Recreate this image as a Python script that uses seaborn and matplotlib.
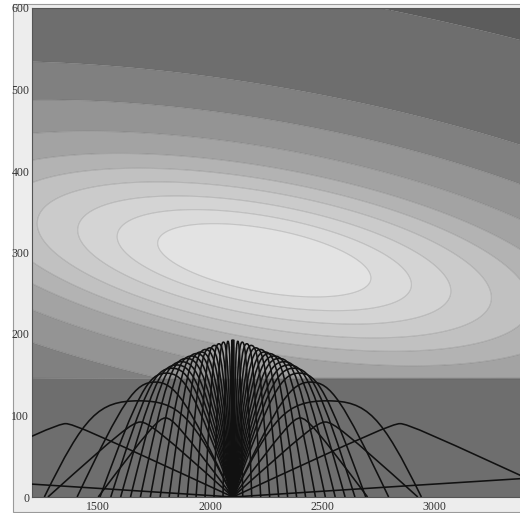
import numpy as np
import matplotlib
matplotlib.use("Agg")
import matplotlib.pyplot as plt
import seaborn as sns
from matplotlib.path import Path
from matplotlib.patches import PathPatch, Rectangle
from matplotlib.ticker import MultipleLocator, FixedLocator

sns.set_theme(style="white")
plt.rcParams['font.family'] = ['Liberation Serif', 'DejaVu Serif']

# ---------------- data ----------------
# axis ranges and ticks
x_range = [1205, 3384]
y_range = [0, 600]
x_major = [1500, 2000, 2500, 3000]
y_major = [0, 100, 200, 300, 400, 500, 600]

# background field: tilted elliptical bump (centre, half-widths, tilt)
field_center_x = 2240
field_center_y = 290
field_tilt = -0.045
field_half_x = 475
field_half_y_up = 40
field_half_y_low = 39
field_floor_y = 145
field_floor_level = 6.5
# contour levels (elliptical radius) and band grey levels
contour_levels = [0, 1.0, 1.38, 1.75, 2.13, 2.5, 2.9, 3.5, 4.35, 5.4, 8.4, 100]
band_grays = [0.89, 0.86, 0.83, 0.795, 0.755, 0.70, 0.64, 0.58, 0.50, 0.43, 0.36]

# rays: launch point, apex offset (horizontal distance from launch), apex height,
# and where the launch tangent meets the apex height (fraction of apex offset)
launch_x = 2100
ray_apex_offset = [3, 22, 42, 62, 82, 102, 122, 142, 162, 184, 206, 228, 250,
                   272, 296, 347, 420, 300, 412, 745, 1500]
ray_apex_height = [193, 191, 190, 188, 186, 183, 181, 178, 176, 173, 170, 166, 162,
                   158, 152, 141, 118, 97, 92, 90, 26]
ray_corner_frac = [0.55, 0.55, 0.56, 0.57, 0.58, 0.59, 0.6, 0.61, 0.62, 0.63, 0.64,
                   0.65, 0.66, 0.67, 0.68, 0.7, 0.5, 0.88, 0.9, 0.95, 0.98]
ray_round = 0.85

# ---------------- figure ----------------
W, H = 520, 513
fig = plt.figure(figsize=(W / 100, H / 100), dpi=100, facecolor="white")
frame = Rectangle((13 / W, 1 / H), 1 - 13 / W + 0.01, (511 - 3) / H,
                  transform=fig.transFigure, facecolor="#ededed",
                  edgecolor="#9a9a9a", linewidth=0.8, zorder=-10)
fig.patches.append(frame)
ax = fig.add_axes([32 / W, (H - 497) / H, (W - 32) / W + 0.002, (497 - 8) / H])
ax.set_zorder(5)

xs = np.linspace(x_range[0], x_range[1], 500)
ys = np.linspace(y_range[0], y_range[1], 400)
X, Y = np.meshgrid(xs, ys)
u = (X - field_center_x) / field_half_x
yc = field_center_y + field_tilt * (X - field_center_x)
v = Y - yc
vs = np.where(v > 0, v / field_half_y_up, v / field_half_y_low)
F = np.sqrt(u ** 2 + vs ** 2)
F = np.where(Y < field_floor_y, field_floor_level, F)

band_colors = sns.color_palette([(g, g, g) for g in band_grays])
ax.contourf(X, Y, F, levels=contour_levels, colors=band_colors, antialiased=True)
ax.contour(X, Y, F, levels=contour_levels[1:-1], colors=[(0.3, 0.3, 0.3, 0.22)],
           linewidths=0.8)

# rays (symmetric about their apex, mirrored to both sides of the launch point)
for d, h, c in zip(ray_apex_offset, ray_apex_height, ray_corner_frac):
    corner = c * d
    p1 = (ray_round * corner, ray_round * h)
    p2 = (d + ray_round * (corner - d), h)
    local = [(0, 0), p1, p2, (d, h), (2 * d - p2[0], h), (2 * d - p1[0], p1[1]), (2 * d, 0)]
    for side in (-1, 1):
        verts = [(launch_x + side * px, py) for px, py in local]
        codes = [Path.MOVETO] + [Path.CURVE4] * 6
        ax.add_patch(PathPatch(Path(verts, codes), facecolor="none",
                               edgecolor="#111111", linewidth=1.15, zorder=5))

ax.set_xlim(x_range)
ax.set_ylim(y_range)
ax.xaxis.set_major_locator(FixedLocator(x_major))
ax.xaxis.set_minor_locator(MultipleLocator(100))
ax.yaxis.set_major_locator(FixedLocator(y_major))
ax.yaxis.set_minor_locator(MultipleLocator(20))
ax.tick_params(which="both", direction="in", top=True, right=True,
               colors="#222222", labelcolor="#333333", labelsize=8.5)
ax.tick_params(which="major", length=4, width=0.7)
ax.tick_params(which="minor", length=2.2, width=0.6)
ax.tick_params(axis="y", pad=2)
ax.tick_params(axis="x", pad=3)
for s in ax.spines.values():
    s.set_color("#555555")
    s.set_linewidth(0.8)
ax.grid(False)

fig.savefig("out.png", dpi=100, facecolor="white")
